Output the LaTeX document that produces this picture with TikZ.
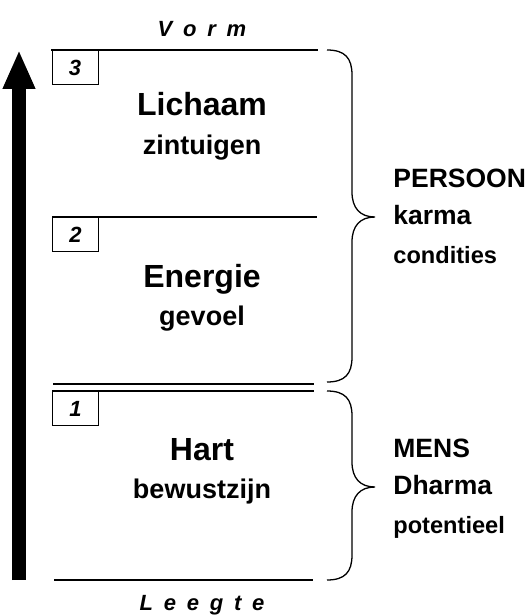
\documentclass[tikz,border=0pt]{standalone}
\usepackage{fontspec}
\setmainfont{Liberation Sans}
\usetikzlibrary{arrows.meta}

\tikzset{
  levelline/.style={line width=0.6pt},
  bracestyle/.style={line width=0.65pt},
  numbox/.style={draw, line width=0.6pt, anchor=north west, minimum width=23pt,
    minimum height=17pt, inner sep=0pt, font=\bfseries\itshape\fontsize{11}{13}\selectfont},
  bigtitle/.style={anchor=base, inner sep=0pt, font=\bfseries\fontsize{16}{19}\selectfont},
  subtitle/.style={anchor=base, inner sep=0pt, font=\bfseries\fontsize{13.5}{16}\selectfont},
  sidetitle/.style={anchor=base west, inner sep=0pt, font=\bfseries\fontsize{13.25}{16}\selectfont},
  sidesmall/.style={anchor=base west, inner sep=0pt, font=\bfseries\fontsize{11.8}{14}\selectfont},
  endlabel/.style={anchor=base, inner sep=0pt, font=\bfseries\itshape\fontsize{11}{13}\selectfont},
}

\newcommand{\letgap}{\hspace{5.4pt}}
% brace: top y, tip y, bottom y
\newcommand{\levelbrace}[3]{%
  \draw[bracestyle] (327,#1) .. controls (345,#1) and (352,#1+8) .. (352,#1+25)
    -- (352,#2-25) .. controls (352,#2-9) and (360,#2) .. (375,#2)
    .. controls (360,#2) and (352,#2+9) .. (352,#2+25)
    -- (352,#3-25) .. controls (352,#3-8) and (345,#3) .. (327,#3);}

\begin{document}
\begin{tikzpicture}[x=0.5pt, y=-0.5pt]
    \useasboundingbox (0,0) rectangle (528,615);

    % ----------------------------------------------------
    % Arrow: Leegte -> Vorm
    % ----------------------------------------------------
    \coordinate (arrow bottom) at (19,580);
    \coordinate (arrow top) at (19,50);
    \draw[line width=7pt, -{Triangle[width=15pt, length=19.5pt]}] (arrow bottom) -- (arrow top);

    % ----------------------------------------------------
    % Level lines
    % ----------------------------------------------------
    \draw[levelline] (51,50) -- (318,50);
    \draw[levelline] (52,217) -- (317,217);
    \draw[levelline] (53,384) -- (314,384);
    \draw[levelline] (52,391) -- (314,391);
    \draw[levelline] (54,580) -- (313,580);

    \node[endlabel] (vorm) at (202,37) {V\letgap o\letgap r\letgap m};
    \node[endlabel] (leegte) at (202,610) {L\letgap e\letgap e\letgap g\letgap t\letgap e};

    % Numbered boxes
    \node[numbox] (box3) at (51.5,50) {3};
    \node[numbox] (box2) at (52,217) {2};
    \node[numbox] (box1) at (52,391) {1};

    % Level texts
    \node[bigtitle] (lichaam) at (202,115) {Lichaam};
    \node[subtitle] (zintuigen) at (202,155) {zintuigen};
    \node[bigtitle] (energie) at (202,287) {Energie};
    \node[subtitle] (gevoel) at (202,325) {gevoel};
    \node[bigtitle] (hart) at (202,460) {Hart};
    \node[subtitle] (bewustzijn) at (202,498) {bewustzijn};

    % ----------------------------------------------------
    % Braces and side texts
    % ----------------------------------------------------
    \levelbrace{50}{217}{382}
    \levelbrace{391}{487}{580}

    \node[sidetitle] (persoon) at (393,187) {PERSOON};
    \node[sidetitle] (karma) at (393,224) {karma};
    \node[sidesmall] (condities) at (393,263) {condities};

    \node[sidetitle] (mens) at (393,457) {MENS};
    \node[sidetitle] (dharma) at (393,494) {Dharma};
    \node[sidesmall] (potentieel) at (393,533) {potentieel};
\end{tikzpicture}
\end{document}
